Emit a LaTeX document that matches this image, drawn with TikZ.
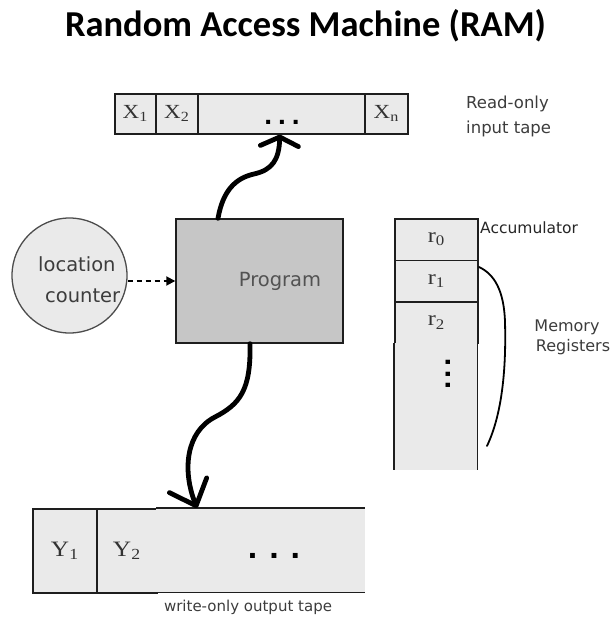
\documentclass[tikz,border=0pt]{standalone}
\usepackage{fontspec}
\setmainfont{DejaVu Sans}
\newfontfamily\titlefont{Carlito}
\newfontfamily\cellfont[FakeStretch=1.15]{Liberation Serif}
\newfontfamily\dotfont{Liberation Sans}
\usetikzlibrary{arrows.meta}

\definecolor{tapegray}{RGB}{234,234,234}
\definecolor{proggray}{RGB}{198,198,198}
\definecolor{labelgray}{RGB}{60,60,60}
\definecolor{edgegray}{RGB}{30,30,30}

\begin{document}
\begin{tikzpicture}[x=1pt,y=-1pt,
  tapecell/.style={draw=edgegray,line width=1.6pt,fill=tapegray,inner sep=0pt,
    anchor=north west,text=black!80,font=\cellfont\fontsize{20}{20}\selectfont},
  intape/.style={tapecell,minimum height=40pt},
  outtape/.style={tapecell,minimum height=84pt,font=\cellfont\fontsize{22}{22}\selectfont},
  regcell/.style={tapecell,minimum width=83pt,minimum height=41.5pt,font=\cellfont\fontsize{21}{21}\selectfont},
  label/.style={text=labelgray,inner sep=0pt},
  flow/.style={line width=4.8pt,line cap=round,line join=round,black},
  dots/.style={inner sep=0pt,font=\dotfont\bfseries}
]
\useasboundingbox (0,0) rectangle (612,628);

% heading
\node[anchor=base,inner sep=0pt,font=\titlefont\bfseries\fontsize{36.5}{36.5}\selectfont] (title)
  at (305.5,37) {Random Access Machine (RAM)};

% read-only input tape
\node[intape,minimum width=41pt]  (x1) at (114,93)  {X\textsubscript{1}};
\node[intape,minimum width=42pt]  (x2) at (155,93)  {X\textsubscript{2}};
\node[intape,minimum width=167pt] (xd) at (197,93)  {};
\node[intape,minimum width=43pt]  (xn) at (364,93)  {X\textsubscript{n}};
\node[dots,font=\dotfont\bfseries\fontsize{28}{28}\selectfont] (xdots) at (282,122)
  {.\hspace{6pt}.\hspace{6pt}.};
\node[label,align=left,anchor=west,font=\fontsize{16.5}{25}\selectfont] (inlabel) at (466,116)
  {Read-only\\input tape};

% program and location counter
\node[draw=edgegray,line width=1.4pt,fill=proggray,minimum width=167pt,minimum height=124pt,
  inner sep=0pt] (prog) at (259.5,281) {};
\node[text=black!68,inner sep=0pt,font=\fontsize{19.5}{19.5}\selectfont] (progtext) at (280,281) {Program};

\node[circle,draw=black!70,line width=1.3pt,fill=tapegray,minimum size=115pt,inner sep=0pt]
  (lc) at (69.5,275.5) {};
\node[label,align=left,anchor=west,font=\fontsize{19.5}{31}\selectfont] (lctext) at (38,280)
  {location\\\hspace*{7pt}counter};

\draw[line width=1.8pt,dash pattern=on 5pt off 4pt,-{Triangle[length=9pt,width=9pt]}]
  (lc.east |- prog.west) -- (prog.west);

% registers
\node[regcell] (r0) at (394,218)   {r\textsubscript{0}};
\node[regcell] (r1) at (394,259.5) {r\textsubscript{1}};
\node[regcell] (r2) at (394,301)   {r\textsubscript{2}};
\node[fill=tapegray,minimum width=83pt,minimum height=127pt,inner sep=0pt,anchor=north west]
  (rrest) at (394,342.5) {};
\draw[draw=edgegray,line width=1.6pt] (rrest.north west) -- (rrest.south west)
  (rrest.north east) -- (rrest.south east);
\node[dots,rotate=90,font=\dotfont\bfseries\fontsize{30}{30}\selectfont] (rdots) at (448,374)
  {.\hspace{3.2pt}.\hspace{3.2pt}.};

\node[anchor=west,inner sep=0pt,text=black!85,font=\fontsize{15.5}{15.5}\selectfont] (acc)
  at (480,228) {Accumulator};
\node[label,align=center,font=\fontsize{16}{20}\selectfont] (memlabel) at (567,337)
  {Memory\\\hspace*{12pt}Registers};

\draw[line width=1.8pt,line cap=round] (479,267)
  .. controls (494,274) and (504,290) .. (505,322)
  .. controls (506,360) and (504,410) .. (487,446);

% write-only output tape
\node[outtape,minimum width=64pt] (y1) at (32,508) {Y\textsubscript{1}};
\node[outtape,minimum width=60pt] (y2) at (96,508) {Y\textsubscript{2}};
\node[fill=tapegray,minimum width=209pt,minimum height=84pt,inner sep=0pt,anchor=north west]
  (yd) at (156,508) {};
\draw[draw=edgegray,line width=1.6pt] (yd.north west) -- (yd.north east)
  (yd.south west) -- (yd.south east);
\node[dots,font=\dotfont\bfseries\fontsize{34}{34}\selectfont] (ydots) at (274,556)
  {.\hspace{12pt}.\hspace{12pt}.};
\node[label,font=\fontsize{15}{15}\selectfont] (outlabel) at (248,607) {write-only output tape};

% data paths between program and tapes
\draw[flow,-{Straight Barb[length=9pt,width=38pt,round]}]
  ([xshift=-41.5pt]prog.north)
  .. controls (223,190) and (236,178) .. (254,174)
  .. controls (272,170) and (279,160) .. ([xshift=-1.5pt]xd.south);
\draw[flow,-{Straight Barb[length=22pt,width=40pt,round]}]
  ([xshift=-9.5pt]prog.south)
  .. controls (251,390) and (240,404) .. (215,417)
  .. controls (186,432) and (182,470) .. ([xshift=41pt]yd.north west);
\end{tikzpicture}
\end{document}
